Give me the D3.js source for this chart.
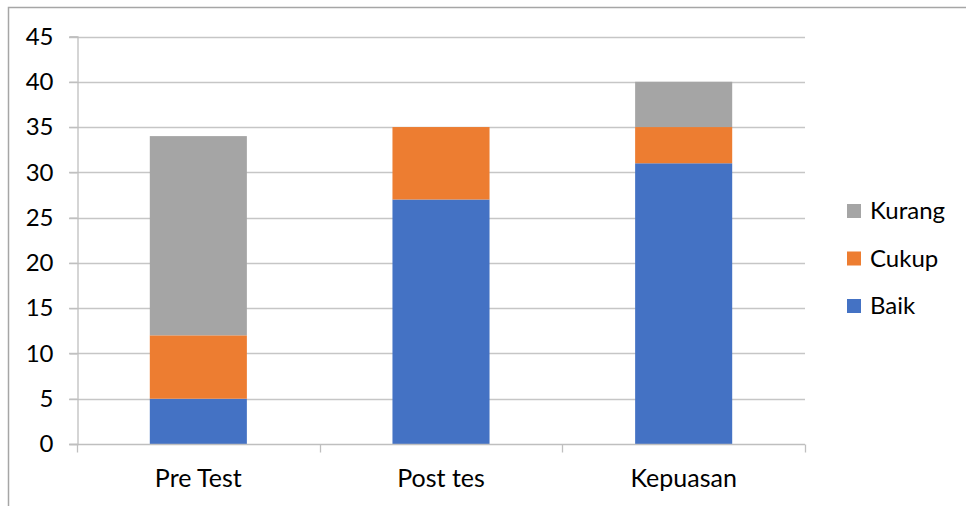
<!DOCTYPE html>
<html>
<head>
<meta charset="utf-8">
<script src="https://cdn.jsdelivr.net/npm/d3@7"></script>
<style>
  html, body { margin: 0; padding: 0; background: #fff; }
  svg { display: block; font-family: Lato, "Open Sans", sans-serif; }
</style>
</head>
<body>
<svg id="chart" width="966" height="506"></svg>
<script>
// Chart data
const categories = ["Pre Test", "Post tes", "Kepuasan"];
const seriesNames = ["Baik", "Cukup", "Kurang"];
const baik = [5, 27, 31];
const cukup = [7, 8, 4];
const kurang = [22, 0, 5];
const yTicks = [0, 5, 10, 15, 20, 25, 30, 35, 40, 45];
const colors = ["#4472C4", "#ED7D31", "#A5A5A5"];

const rows = categories.map((c, i) => ({ category: c, Baik: baik[i], Cukup: cukup[i], Kurang: kurang[i] }));
const stacked = d3.stack().keys(seriesNames)(rows);

const svg = d3.select("#chart");
const W = 966, H = 506;

// outer frame
svg.append("rect")
  .attr("x", 8.5).attr("y", 7.5)
  .attr("width", W + 10).attr("height", H + 10)
  .attr("fill", "none").attr("stroke", "#a6a6a6").attr("stroke-width", 1.5);

const plot = { left: 77, right: 805, top: 36.5, bottom: 444 };

const x = d3.scaleBand().domain(categories)
  .range([plot.left, plot.right]).paddingInner(0.6).paddingOuter(0.3);
const y = d3.scaleLinear().domain([0, 45]).range([plot.bottom, plot.top]);
const color = d3.scaleOrdinal().domain(seriesNames).range(colors);

// gridlines
svg.append("g")
  .selectAll("line").data(yTicks.filter(t => t > 0)).join("line")
  .attr("x1", plot.left - 8).attr("x2", plot.right)
  .attr("y1", d => Math.round(y(d)) + 0.5).attr("y2", d => Math.round(y(d)) + 0.5)
  .attr("stroke", "#c6c6c6").attr("stroke-width", 1.3);

// bars
svg.append("g")
  .selectAll("g").data(stacked).join("g")
  .attr("fill", d => color(d.key))
  .selectAll("rect").data(d => d).join("rect")
  .attr("x", d => x(d.data.category))
  .attr("width", x.bandwidth())
  .attr("y", d => y(d[1]))
  .attr("height", d => y(d[0]) - y(d[1]));

// y axis
const yAxis = d3.axisLeft(y).tickValues(yTicks).tickSize(8).tickPadding(16);
const gy = svg.append("g").attr("transform", `translate(${plot.left + 0.5},0)`).call(yAxis);
gy.select(".domain").attr("stroke", "#bfbfbf").attr("stroke-width", 1.3);
gy.selectAll(".tick line").attr("stroke", "#bfbfbf").attr("stroke-width", 1.3);
gy.selectAll(".tick text").attr("font-size", 24).attr("fill", "#000")
  .attr("font-family", "Lato, 'Open Sans', sans-serif");

// x axis: category boundary ticks
const xBottom = Math.round(plot.bottom) + 0.5;
svg.append("line")
  .attr("x1", plot.left - 8).attr("x2", plot.right)
  .attr("y1", xBottom).attr("y2", xBottom)
  .attr("stroke", "#bfbfbf").attr("stroke-width", 1.3);
const step = (plot.right - plot.left) / categories.length;
svg.append("g").selectAll("line").data(d3.range(categories.length + 1)).join("line")
  .attr("x1", i => Math.round(plot.left + i * step) + 0.5)
  .attr("x2", i => Math.round(plot.left + i * step) + 0.5)
  .attr("y1", xBottom).attr("y2", xBottom + 8)
  .attr("stroke", "#bfbfbf").attr("stroke-width", 1.3);
svg.append("g").selectAll("text").data(categories).join("text")
  .attr("x", d => x(d) + x.bandwidth() / 2)
  .attr("y", 487)
  .attr("text-anchor", "middle")
  .attr("font-size", 25)
  .attr("fill", "#000")
  .text(d => d);

// legend (top-down: Kurang, Cukup, Baik)
const legendOrder = seriesNames.slice().reverse();
const lg = svg.append("g").selectAll("g").data(legendOrder).join("g")
  .attr("transform", (d, i) => `translate(847, ${204 + i * 47.5})`);
lg.append("rect").attr("width", 14).attr("height", 14).attr("fill", d => color(d));
lg.append("text").attr("x", 23).attr("y", 15).attr("font-size", 24).attr("fill", "#000").text(d => d);
</script>
</body>
</html>
